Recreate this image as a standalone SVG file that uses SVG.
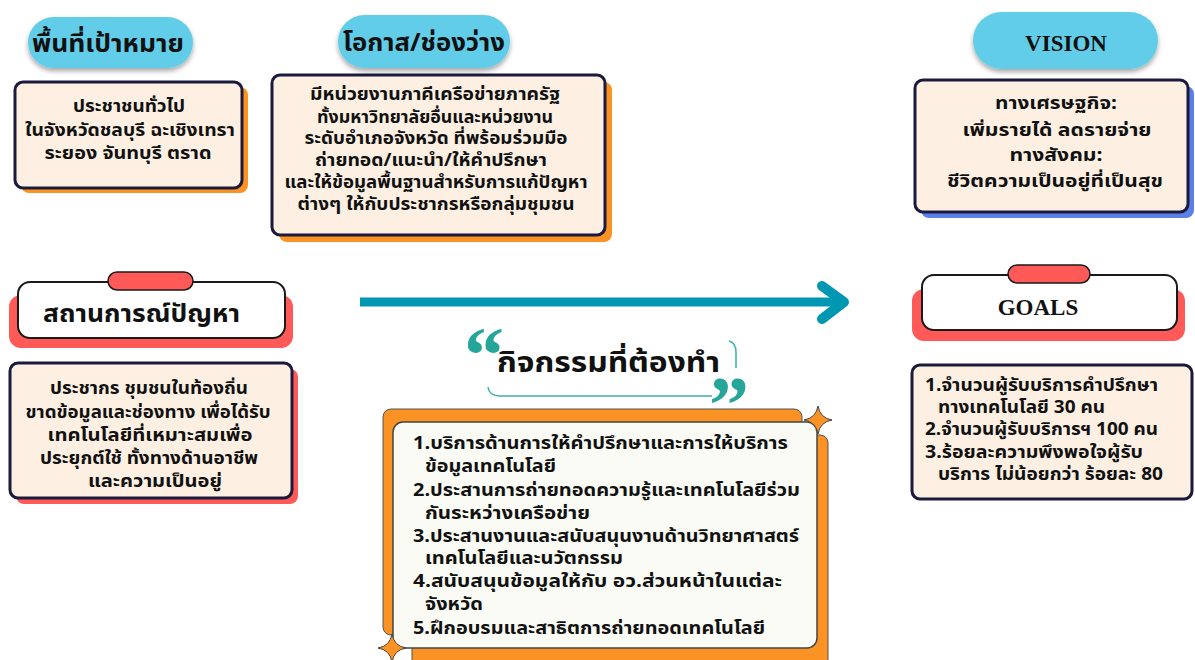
<svg xmlns="http://www.w3.org/2000/svg" width="1195" height="660" viewBox="0 0 1195 660">
<defs>
<filter id="sh" x="-20%" y="-30%" width="140%" height="170%">
<feDropShadow dx="0" dy="3" stdDeviation="2.5" flood-color="#000" flood-opacity="0.35"/>
</filter>
<style>
.pill{fill:#62cde9;filter:url(#sh)}
.card{fill:#fdf0e2;stroke:#1b1a3d;stroke-width:3}
.orange{fill:#fb9224}
.blue{fill:#5b80e8}
.red{fill:#ff5a57}
.hdr{fill:#fff;stroke:#1a1a1a;stroke-width:2}
.tab{fill:#ff5a57;stroke:#1a1a1a;stroke-width:1.5}
.t{font-family:"Noto Sans Thai","Noto Serif Thai","Liberation Serif",serif;font-weight:700;fill:#111}
.c{text-anchor:middle}
.b{font-size:17px}
.h{font-size:25px}
.a{font-size:18px}
.star{fill:#fb9224;stroke:#444;stroke-width:1}
.q{font-family:"Liberation Serif",serif;font-weight:700;font-size:80px;fill:#26a69a}
</style>
</defs>

<g id="connectors">
<line x1="360" y1="302" x2="843" y2="302" stroke="#0097b2" stroke-width="9"/>
<polyline points="822,286 844,302 822,319" fill="none" stroke="#0097b2" stroke-width="10" stroke-linecap="round" stroke-linejoin="round"/>
</g>

<g id="target-title">
<rect class="pill" x="28" y="17" width="165" height="51" rx="25.5"/>
<text class="t c h" x="108" y="52" textLength="152" lengthAdjust="spacingAndGlyphs">พื้นที่เป้าหมาย</text>
</g>
<g id="target-box">
<rect class="orange" x="21" y="87" width="227" height="106" rx="8"/>
<rect class="card" x="15" y="82" width="227" height="106" rx="8"/>
<text class="t c b" x="129" y="112" textLength="112" lengthAdjust="spacingAndGlyphs">ประชาชนทั่วไป</text>
<text class="t c b" x="130" y="136" textLength="210" lengthAdjust="spacingAndGlyphs">ในจังหวัดชลบุรี  ฉะเชิงเทรา</text>
<text class="t c b" x="128" y="159" textLength="167" lengthAdjust="spacingAndGlyphs">ระยอง จันทบุรี   ตราด</text>
</g>

<g id="gap-title">
<rect class="pill" x="338" y="15" width="172" height="53" rx="26.5"/>
<text class="t c h" x="424" y="51" textLength="162" lengthAdjust="spacingAndGlyphs">โอกาส/ช่องว่าง</text>
</g>
<g id="gap-box">
<rect class="orange" x="279" y="82" width="333" height="160" rx="8"/>
<rect class="card" x="272" y="75" width="333" height="160" rx="8"/>
<text class="t c b" x="435" y="100" textLength="250" lengthAdjust="spacingAndGlyphs">มีหน่วยงานภาคีเครือข่ายภาครัฐ</text>
<text class="t c b" x="435" y="123" textLength="236" lengthAdjust="spacingAndGlyphs">ทั้งมหาวิทยาลัยอื่นและหน่วยงาน</text>
<text class="t c b" x="436" y="144" textLength="263" lengthAdjust="spacingAndGlyphs">ระดับอำเภอจังหวัด ที่พร้อมร่วมมือ</text>
<text class="t c b" x="431" y="166" textLength="232" lengthAdjust="spacingAndGlyphs">ถ่ายทอด/แนะนำ/ให้คำปรึกษา</text>
<text class="t c b" x="436" y="188" textLength="303" lengthAdjust="spacingAndGlyphs">และให้ข้อมูลพื้นฐานสำหรับการแก้ปัญหา</text>
<text class="t c b" x="436" y="210" textLength="277" lengthAdjust="spacingAndGlyphs">ต่างๆ ให้กับประชากรหรือกลุ่มชุมชน</text>
</g>

<g id="vision-title">
<rect class="pill" x="973" y="12" width="185" height="57" rx="28.5"/>
<text x="1066" y="51" text-anchor="middle" font-family="Liberation Serif, serif" font-weight="700" font-size="23" fill="#111">VISION</text>
</g>
<g id="vision-box">
<rect class="blue" x="921" y="86" width="273" height="132" rx="8"/>
<rect class="card" x="915" y="80" width="273" height="132" rx="8"/>
<text class="t c b" x="1056" y="109" textLength="122" lengthAdjust="spacingAndGlyphs">ทางเศรษฐกิจ:</text>
<text class="t c b" x="1057" y="136" textLength="189" lengthAdjust="spacingAndGlyphs">เพิ่มรายได้ ลดรายจ่าย</text>
<text class="t c b" x="1056" y="161" textLength="93" lengthAdjust="spacingAndGlyphs">ทางสังคม:</text>
<text class="t c b" x="1055" y="187" textLength="216" lengthAdjust="spacingAndGlyphs">ชีวิตความเป็นอยู่ที่เป็นสุข</text>
</g>

<g id="problem-title">
<rect class="red" x="9" y="295" width="284" height="53" rx="12"/>
<rect class="hdr" x="18" y="282" width="267" height="56" rx="12"/>
<rect class="tab" x="108" y="272" width="85" height="18" rx="9"/>
<text class="t h" x="43" y="322" textLength="197" lengthAdjust="spacingAndGlyphs">สถานการณ์ปัญหา</text>
</g>
<g id="problem-box">
<rect class="red" x="16" y="369" width="282" height="135" rx="8"/>
<rect class="card" x="10" y="363" width="282" height="135" rx="8"/>
<text class="t c b" x="149" y="394" textLength="198" lengthAdjust="spacingAndGlyphs">ประชากร ชุมชนในท้องถิ่น</text>
<text class="t c b" x="148" y="418" textLength="245" lengthAdjust="spacingAndGlyphs">ขาดข้อมูลและช่องทาง เพื่อได้รับ</text>
<text class="t c b" x="150" y="441" textLength="205" lengthAdjust="spacingAndGlyphs">เทคโนโลยีที่เหมาะสมเพื่อ</text>
<text class="t c b" x="149" y="464" textLength="218" lengthAdjust="spacingAndGlyphs">ประยุกต์ใช้ ทั้งทางด้านอาชีพ</text>
<text class="t c b" x="155" y="487" textLength="134" lengthAdjust="spacingAndGlyphs">และความเป็นอยู่</text>
</g>

<g id="activities-title">
<text class="q" x="464" y="382">“</text>
<text class="q" x="709" y="432">”</text>
<path d="M488,387 Q489,396 500,396 L712,396" fill="none" stroke="#3bb3a6" stroke-width="1.5"/>
<path d="M729,341 Q736,343 736,352 L736,368" fill="none" stroke="#3bb3a6" stroke-width="1.5"/>
<text class="t" x="497" y="372" font-size="28" textLength="223" lengthAdjust="spacingAndGlyphs">กิจกรรมที่ต้องทำ</text>
</g>
<g id="activities-box">
<rect class="orange" x="383" y="409" width="419" height="226" rx="8" stroke="#555" stroke-width="1"/>
<rect class="orange" x="412" y="435" width="416" height="235" rx="8" stroke="#555" stroke-width="1"/>
<rect x="393" y="422" width="424" height="226" rx="10" fill="#f9fbf4" stroke="#444" stroke-width="1.5"/>
<path class="star" d="M818,406 Q820,418 832,420 Q820,422 818,434 Q816,422 804,420 Q816,418 818,406 Z"/>
<path class="star" d="M392,634 Q394,646 406,648 Q394,650 392,662 Q390,650 378,648 Q390,646 392,634 Z"/>
<text class="t a" x="413" y="449" textLength="375" lengthAdjust="spacingAndGlyphs">1.บริการด้านการให้คำปรึกษาและการให้บริการ</text>
<text class="t a" x="425" y="472" textLength="131" lengthAdjust="spacingAndGlyphs">ข้อมูลเทคโนโลยี</text>
<text class="t a" x="413" y="496" textLength="387" lengthAdjust="spacingAndGlyphs">2.ประสานการถ่ายทอดความรู้และเทคโนโลยีร่วม</text>
<text class="t a" x="425" y="519" textLength="165" lengthAdjust="spacingAndGlyphs">กันระหว่างเครือข่าย</text>
<text class="t a" x="413" y="542" textLength="386" lengthAdjust="spacingAndGlyphs">3.ประสานงานและสนับสนุนงานด้านวิทยาศาสตร์</text>
<text class="t a" x="425" y="564" textLength="198" lengthAdjust="spacingAndGlyphs">เทคโนโลยีและนวัตกรรม</text>
<text class="t a" x="413" y="587" textLength="369" lengthAdjust="spacingAndGlyphs">4.สนับสนุนข้อมูลให้กับ อว.ส่วนหน้าในแต่ละ</text>
<text class="t a" x="425" y="610" textLength="58" lengthAdjust="spacingAndGlyphs">จังหวัด</text>
<text class="t a" x="413" y="634" textLength="352" lengthAdjust="spacingAndGlyphs">5.ฝึกอบรมและสาธิตการถ่ายทอดเทคโนโลยี</text>
</g>

<g id="goals-title">
<rect class="red" x="912" y="289" width="273" height="52" rx="12"/>
<rect class="hdr" x="922" y="275" width="255" height="55" rx="12"/>
<rect class="tab" x="1008" y="265" width="82" height="18" rx="9"/>
<text x="1038" y="315" text-anchor="middle" font-family="Liberation Serif, serif" font-weight="700" font-size="23" fill="#111">GOALS</text>
</g>
<g id="goals-box">
<rect class="card" x="912" y="365" width="280" height="134" rx="8"/>
<text class="t b" x="925" y="391" textLength="233" lengthAdjust="spacingAndGlyphs">1.จำนวนผู้รับบริการคำปรึกษา</text>
<text class="t b" x="938" y="413" textLength="167" lengthAdjust="spacingAndGlyphs">ทางเทคโนโลยี 30 คน</text>
<text class="t b" x="925" y="435" textLength="233" lengthAdjust="spacingAndGlyphs">2.จำนวนผู้รับบริการฯ 100 คน</text>
<text class="t b" x="925" y="458" textLength="218" lengthAdjust="spacingAndGlyphs">3.ร้อยละความพึงพอใจผู้รับ</text>
<text class="t b" x="938" y="480" textLength="225" lengthAdjust="spacingAndGlyphs">บริการ ไม่น้อยกว่า ร้อยละ 80</text>
</g>
</svg>
